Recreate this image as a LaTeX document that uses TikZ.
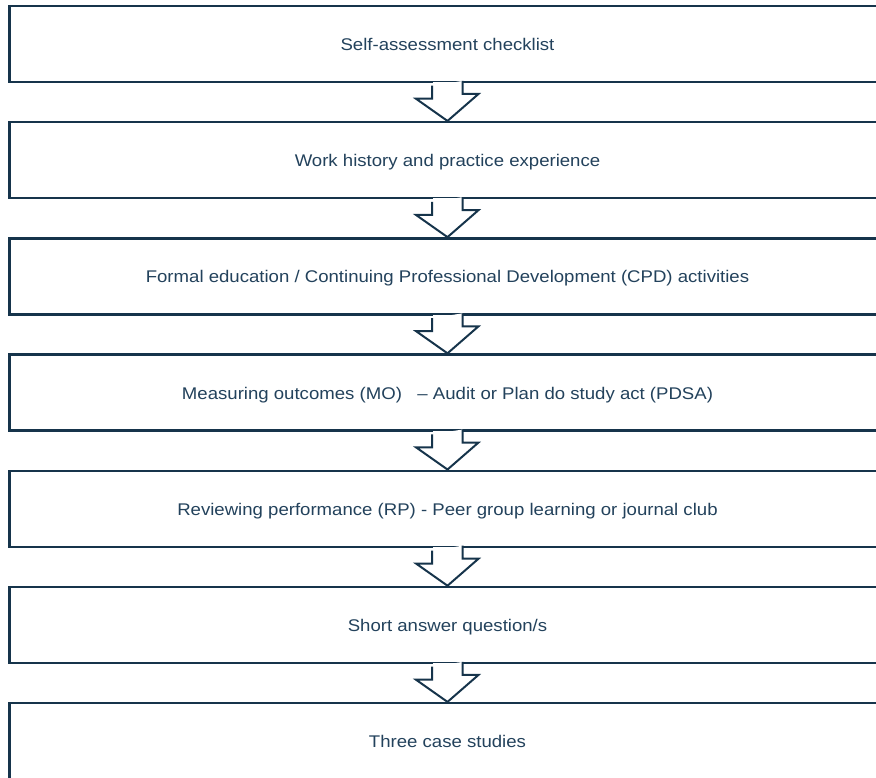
\documentclass[tikz,border=0pt]{standalone}
\usepackage{fontspec}
\setmainfont[FakeStretch=1.1]{Liberation Sans}
\usepackage{xcolor}
\usetikzlibrary{positioning}
\definecolor{boxline}{HTML}{16344B}
\definecolor{boxtext}{HTML}{23425C}
\tikzset{
  stage/.style={draw=boxline, line width=2.5pt, fill=white, text=boxtext,
    minimum width=876bp, minimum height=76bp, inner sep=0pt,
    text height=14bp, text depth=1bp,
    font=\fontsize{16.9bp}{20bp}\selectfont},
  downarrow/.style={draw=boxline, line width=2pt, fill=white, line join=miter},
  gapfill/.style={fill=white}
}
\begin{document}
\begin{tikzpicture}[x=1bp,y=-1bp,node distance=37.7bp]
  \useasboundingbox (0,0) rectangle (876,778);
  \clip (0,0) rectangle (876,778);
  \node[stage] (b1) at (447.5,44) {Self-assessment checklist};
  \node[stage,below=of b1] (b2) {Work history and practice experience};
  \node[stage,below=of b2] (b3) {Formal education / Continuing Professional Development (CPD) activities};
  \node[stage,below=of b3] (b4) {Measuring outcomes (MO)~~ -- Audit or Plan do study act (PDSA)};
  \node[stage,below=of b4] (b5) {Reviewing performance (RP) - Peer group learning or journal club};
  \node[stage,below=of b5] (b6) {Short answer question/s};
  \node[stage,below=of b6] (b7) {Three case studies};
  % block arrows between the stages
  \foreach \i/\j in {1/2,2/3,3/4,4/5,5/6,6/7}{
    \fill[gapfill] ([xshift=-14.5bp,yshift=-4bp]b\i.south) rectangle ([xshift=14.5bp,yshift=1bp]b\i.south);
    \draw[downarrow] ([xshift=-15.5bp,yshift=-2.5bp]b\i.south) -- ++(0,13) -- ++(-16,0)
      -- (b\j.north) -- ++(31,-27) -- ++(-16,0) -- ++(0,-13);
  }
\end{tikzpicture}
\end{document}
